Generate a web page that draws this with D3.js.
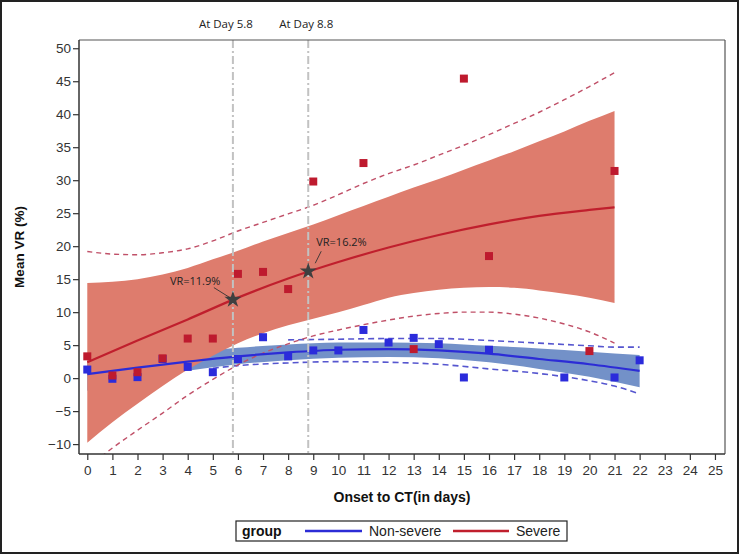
<!DOCTYPE html>
<html>
<head>
<meta charset="utf-8">
<script src="https://cdn.jsdelivr.net/npm/d3@7"></script>
<style>
  html, body { margin: 0; padding: 0; background: #fff; }
  svg { display: block; }
</style>
</head>
<body>
<div id="chart"></div>
<script>
// ---------- data ----------
const xTicks = d3.range(0, 26);
const yTicks = [-10, -5, 0, 5, 10, 15, 20, 25, 30, 35, 40, 45, 50];

// observed points
const severeDay  = [0, 1, 2, 3, 4, 5, 6, 7, 8, 9, 11, 13, 15, 16, 20, 21];
const severeVR   = [3.3, 0.4, 0.9, 3.0, 6.0, 6.0, 15.8, 16.1, 13.5, 29.8, 32.6, 4.4, 45.4, 18.5, 4.1, 31.4];
const nonSevDay  = [0, 1, 2, 3, 4, 5, 6, 7, 8, 9, 10, 11, 12, 13, 14, 15, 16, 19, 21, 22];
const nonSevVR   = [1.3, -0.1, 0.15, 2.9, 1.7, 0.9, 2.9, 6.2, 3.3, 4.2, 4.2, 7.3, 5.4, 6.1, 5.15, 0.1, 4.3, 0.1, 0.1, 2.7];

// severe fit, confidence band, prediction limits
const sevFitDay = [0, 2, 4, 6, 8, 10, 12, 14, 16, 18, 20, 21];
const sevFit    = [2.4, 5.7, 8.9, 12.2, 15.1, 17.6, 19.8, 21.7, 23.3, 24.6, 25.5, 25.9];
const sevBandDay = [0, 1, 2, 3, 4, 5, 6, 7, 8, 9, 10, 11, 12, 13, 14, 15, 16, 17, 18, 19, 20, 21];
const sevBandHi  = [14.4, 14.6, 15.0, 15.7, 16.7, 18.0, 19.3, 20.7, 22.0, 23.3, 24.7, 26.1, 27.5, 28.9, 30.2, 31.6, 33.0, 34.4, 35.9, 37.4, 39.0, 40.5];
const sevBandLo  = [-9.8, -6.7, -3.9, -1.2, 1.3, 3.4, 5.3, 6.8, 8.0, 9.0, 10.0, 11.1, 12.2, 12.9, 13.4, 13.7, 13.8, 13.7, 13.3, 12.8, 12.2, 11.4];
const sevPredHi  = [19.2, 18.8, 18.7, 19.0, 19.6, 20.8, 22.3, 23.6, 24.9, 26.2, 27.8, 29.5, 31.0, 32.3, 33.8, 35.3, 36.9, 38.6, 40.3, 42.2, 44.2, 46.3];
const sevPredLo  = [-13.6, -10.6, -7.9, -5.3, -2.6, -0.2, 2.0, 3.8, 5.2, 6.4, 7.3, 8.1, 8.8, 9.4, 9.8, 10.0, 10.0, 9.7, 9.1, 8.2, 7.0, 5.3];

// non-severe fit, confidence band, prediction limits
const nsFitDay  = [0, 2, 4, 6, 8, 10, 12, 14, 16, 18, 20, 22];
const nsFit     = [0.6, 1.6, 2.5, 3.3, 3.9, 4.3, 4.4, 4.2, 3.7, 2.9, 2.1, 1.1];
const nsBandHi  = [3.2, 3.4, 3.9, 4.6, 5.1, 5.4, 5.4, 5.3, 4.9, 4.5, 4.0, 3.5];
const nsBandLo  = [-1.9, -0.1, 1.1, 2.1, 2.7, 3.1, 3.2, 3.0, 2.4, 1.4, 0.2, -1.4];
const nsPredHiDay = [8, 10, 12, 14, 16, 18, 20, 21, 22];
const nsPredHi    = [5.8, 5.9, 6.0, 6.0, 5.7, 5.3, 4.9, 4.7, 4.7];
const nsPredLoDay = [5, 6, 8, 10, 12, 14, 16, 18, 20, 21, 22];
const nsPredLo    = [1.5, 1.9, 2.3, 2.5, 2.4, 2.1, 1.4, 0.7, -0.4, -1.2, -2.4];

// reference lines / stars
const refDays  = [5.8, 8.8];
const refVR    = [11.9, 16.2];
const refTop   = ["At Day 5.8", "At Day 8.8"];
const refLabel = ["VR=11.9%", "VR=16.2%"];

const legendNames = ["Non-severe", "Severe"];

// ---------- colors ----------
const C = {
  sevBand: "#DE7C6D", sevLine: "#C01F2D", sevPt: "#BE1A2E", sevDash: "#C05068",
  nsBand: "#7391C8", nsLine: "#2C2CD6", nsPt: "#2B2BDB", nsDash: "#5656CF",
  ref: "#C2C2C2", star: "#3F3F3F", axis: "#333"
};

// ---------- layout ----------
const W = 739, H = 554;
const L = 79, R = 725, T = 40, B = 454;

const svg = d3.select("#chart").append("svg").attr("width", W).attr("height", H)
  .style("font-family", "'Liberation Sans', Arial, sans-serif");

// outer border
svg.append("rect").attr("x", 1).attr("y", 1).attr("width", W - 2).attr("height", H - 2)
  .attr("fill", "#fff").attr("stroke", "#222").attr("stroke-width", 2);

const x = d3.scaleLinear().domain([-0.33, 25.4]).range([L, R]);
const y = d3.scaleLinear().domain([-11.5, 51.25]).range([B, T]);

svg.append("defs").append("clipPath").attr("id", "clip")
  .append("rect").attr("x", L).attr("y", T).attr("width", R - L).attr("height", B - T);

const plot = svg.append("g").attr("clip-path", "url(#clip)");

const zip = (a, b) => a.map((d, i) => [d, b[i]]);
const lineGen = d3.line().x(d => x(d[0])).y(d => y(d[1])).curve(d3.curveMonotoneX);
const areaGen = d3.area().x(d => x(d[0])).y0(d => y(d[1])).y1(d => y(d[2])).curve(d3.curveMonotoneX);

// non-severe band
plot.append("path").datum(nsFitDay.map((d, i) => [d, nsBandLo[i], nsBandHi[i]]))
  .attr("d", areaGen).attr("fill", C.nsBand);
// non-severe prediction limits
plot.append("path").datum(zip(nsPredHiDay, nsPredHi)).attr("d", lineGen)
  .attr("fill", "none").attr("stroke", C.nsDash).attr("stroke-width", 1.6).attr("stroke-dasharray", "6,4");
plot.append("path").datum(zip(nsPredLoDay, nsPredLo)).attr("d", lineGen)
  .attr("fill", "none").attr("stroke", C.nsDash).attr("stroke-width", 1.6).attr("stroke-dasharray", "6,4");

// severe band
plot.append("path").datum(sevBandDay.map((d, i) => [d, sevBandLo[i], sevBandHi[i]]))
  .attr("d", areaGen).attr("fill", C.sevBand);
// severe prediction limits
[sevPredHi, sevPredLo].forEach(arr => {
  plot.append("path").datum(zip(sevBandDay, arr)).attr("d", lineGen)
    .attr("fill", "none").attr("stroke", C.sevDash).attr("stroke-width", 1.4).attr("stroke-dasharray", "5,4");
});

// reference vertical lines
refDays.forEach(d => {
  svg.append("line").attr("x1", x(d)).attr("x2", x(d)).attr("y1", T).attr("y2", B)
    .attr("stroke", C.ref).attr("stroke-width", 2).attr("stroke-dasharray", "8,3,2,3");
});

// fit lines
plot.append("path").datum(zip(nsFitDay, nsFit)).attr("d", lineGen)
  .attr("fill", "none").attr("stroke", C.nsLine).attr("stroke-width", 2.2);
plot.append("path").datum(zip(sevFitDay, sevFit)).attr("d", lineGen)
  .attr("fill", "none").attr("stroke", C.sevLine).attr("stroke-width", 2.2);

// points
const S = 8;
plot.selectAll(".ns").data(zip(nonSevDay, nonSevVR)).enter().append("rect")
  .attr("x", d => x(d[0]) - S / 2).attr("y", d => y(d[1]) - S / 2)
  .attr("width", S).attr("height", S).attr("fill", C.nsPt);
plot.selectAll(".sv").data(zip(severeDay, severeVR)).enter().append("rect")
  .attr("x", d => x(d[0]) - S / 2).attr("y", d => y(d[1]) - S / 2)
  .attr("width", S).attr("height", S).attr("fill", C.sevPt);

// stars + annotations
const star = d3.symbol().type(d3.symbolStar).size(90);
refDays.forEach((d, i) => {
  svg.append("path").attr("d", star).attr("transform", `translate(${x(d)},${y(refVR[i])})`)
    .attr("fill", C.star);
});
const annFont = "'Open Sans', 'Liberation Sans', sans-serif";
// VR=11.9%
svg.append("text").attr("x", x(refDays[0]) - 63).attr("y", y(refVR[0]) - 15)
  .attr("font-size", 11).attr("font-family", annFont).attr("fill", "#222").text(refLabel[0]);
svg.append("line").attr("x1", x(refDays[0]) - 19).attr("y1", y(refVR[0]) - 12)
  .attr("x2", x(refDays[0]) - 3).attr("y2", y(refVR[0]) - 2).attr("stroke", "#333").attr("stroke-width", 0.9);
// VR=16.2%
svg.append("text").attr("x", x(refDays[1]) + 8).attr("y", y(refVR[1]) - 25)
  .attr("font-size", 11).attr("font-family", annFont).attr("fill", "#222").text(refLabel[1]);
svg.append("line").attr("x1", x(refDays[1]) + 13).attr("y1", y(refVR[1]) - 20)
  .attr("x2", x(refDays[1]) + 7).attr("y2", y(refVR[1]) - 8).attr("stroke", "#333").attr("stroke-width", 0.9);

// top labels
refDays.forEach((d, i) => {
  svg.append("text").attr("x", x(d) - (i === 0 ? 7 : 2)).attr("y", 28)
    .attr("text-anchor", "middle").attr("font-size", 11.5).attr("font-family", annFont)
    .attr("fill", "#222").text(refTop[i]);
});

// frame (top/right)
svg.append("line").attr("x1", L).attr("x2", R).attr("y1", T).attr("y2", T).attr("stroke", "#555").attr("stroke-width", 1.2);
svg.append("line").attr("x1", R).attr("x2", R).attr("y1", T).attr("y2", B).attr("stroke", "#555").attr("stroke-width", 1.2);

// axes
const xAxis = svg.append("g").attr("transform", `translate(0,${B})`)
  .call(d3.axisBottom(x).tickValues(xTicks).tickSize(6).tickSizeOuter(0).tickFormat(d3.format("d")));
const yAxis = svg.append("g").attr("transform", `translate(${L},0)`)
  .call(d3.axisLeft(y).tickValues(yTicks).tickSize(6).tickSizeOuter(0).tickFormat(d3.format("d")));
[xAxis, yAxis].forEach(g => {
  g.select(".domain").attr("stroke", C.axis).attr("stroke-width", 1.5);
  g.selectAll(".tick line").attr("stroke", C.axis).attr("stroke-width", 1.2);
  g.selectAll(".tick text").attr("fill", "#333").attr("font-size", 13.5)
    .attr("font-family", "'Liberation Sans', Arial, sans-serif");
});
xAxis.selectAll(".tick text").attr("dy", "0.9em");
yAxis.selectAll(".tick text").attr("x", -8);
xAxis.select(".domain").attr("d", `M${L},0H${R}`);
yAxis.select(".domain").attr("d", `M0,${T}V${B}`);

// axis titles
svg.append("text").attr("x", (L + R) / 2).attr("y", 502).attr("text-anchor", "middle")
  .attr("font-size", 14).attr("font-weight", "bold").attr("fill", "#111").text("Onset to CT(in days)");
svg.append("text").attr("transform", `translate(24,${(T + B) / 2}) rotate(-90)`).attr("text-anchor", "middle")
  .attr("font-size", 13.5).attr("font-weight", "bold").attr("fill", "#111").text("Mean VR (%)");

// legend
const lg = svg.append("g");
lg.append("rect").attr("x", 236).attr("y", 521).attr("width", 331).attr("height", 20)
  .attr("fill", "#fff").attr("stroke", "#222").attr("stroke-width", 1.2);
lg.append("text").attr("x", 242).attr("y", 536).attr("font-size", 14).attr("font-weight", "bold")
  .attr("fill", "#111").text("group");
lg.append("line").attr("x1", 305).attr("x2", 362).attr("y1", 531).attr("y2", 531)
  .attr("stroke", C.nsLine).attr("stroke-width", 2.5);
lg.append("text").attr("x", 369).attr("y", 536).attr("font-size", 14).attr("fill", "#222").text(legendNames[0]);
lg.append("line").attr("x1", 453).attr("x2", 509).attr("y1", 531).attr("y2", 531)
  .attr("stroke", C.sevLine).attr("stroke-width", 2.5);
lg.append("text").attr("x", 516).attr("y", 536).attr("font-size", 14).attr("fill", "#222").text(legendNames[1]);
</script>
</body>
</html>
